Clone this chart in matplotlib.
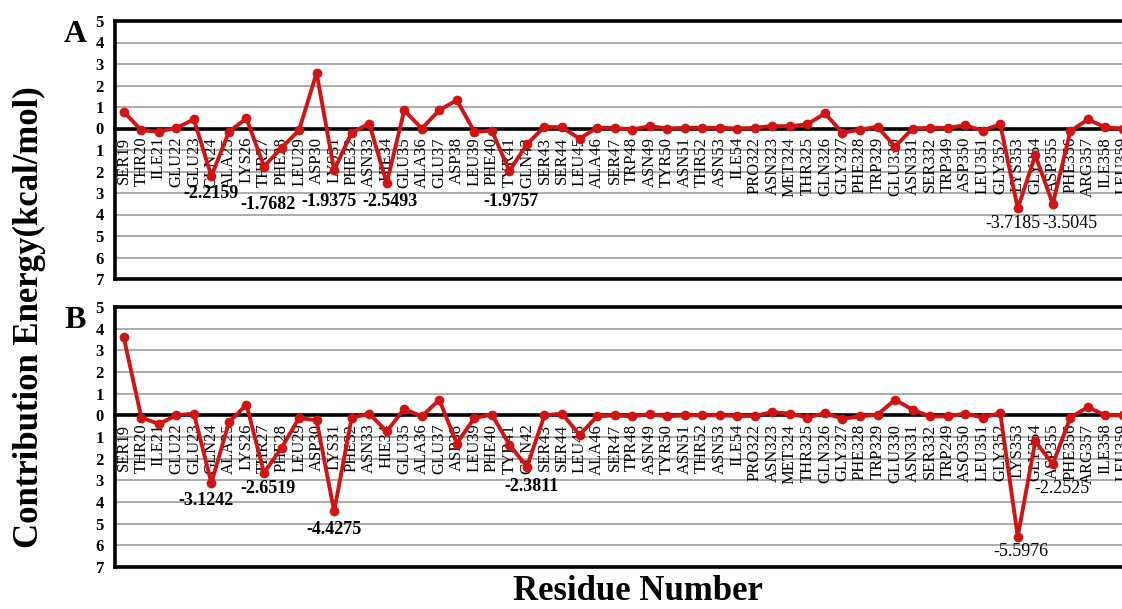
import matplotlib.pyplot as plt
import numpy as np

# Residue labels (panel A) and panel B (as printed, incl. typos)
labels_a = ['SER19', 'THR20', 'ILE21', 'GLU22', 'GLU23', 'GLN24', 'ALA25',
            'LYS26', 'THR27', 'PHE28', 'LEU29', 'ASP30', 'LYS31', 'PHE32',
            'ASN33', 'HIE34', 'GLU35', 'ALA36', 'GLU37', 'ASP38', 'LEU39',
            'PHE40', 'TYR41', 'GLN42', 'SER43', 'SER44', 'LEU45', 'ALA46',
            'SER47', 'TRP48', 'ASN49', 'TYR50', 'ASN51', 'THR52', 'ASN53',
            'ILE54', 'PRO322', 'ASN323', 'MET324', 'THR325', 'GLN326',
            'GLY327', 'PHE328', 'TRP329', 'GLU330', 'ASN331', 'SER332',
            'TRP349', 'ASP350', 'LEU351', 'GLY352', 'LYS353', 'GLY354',
            'ASP355', 'PHE356', 'ARG357', 'ILE358', 'LEU359']
labels_b = ['SER19', 'THR20', 'ILE21', 'GLU22', 'GLU23', 'GLN24', 'ALA25',
            'LYS26', 'THR27', 'PHE28', 'LEU29', 'ASP30', 'LYS31', 'PHE32',
            'ASN33', 'HIE34', 'GLU35', 'ALA36', 'GLU37', 'ASP38', 'LEU39',
            'PHE40', 'TYR41', 'GLN42', 'SER43', 'SER44', 'LEU45', 'ALA46',
            'SER47', 'TPR48', 'ASN49', 'TYR50', 'ASN51', 'THR52', 'ASN53',
            'ILE54', 'PRO322', 'ASN323', 'MET324', 'THR325', 'GLN326',
            'GLY327', 'PHE328', 'TRP329', 'GLU330', 'ASN331', 'SER332',
            'TRP249', 'ASO350', 'LEU351', 'GLY352', 'LYS353', 'GLY354',
            'ASP355', 'PHE356', 'ARG357', 'ILE358', 'LEU359']

energy_a = [0.78, -0.08, -0.15, 0.03, 0.42, -2.2159, -0.15, 0.47, -1.7682,
            -0.9, -0.08, 2.59, -1.9375, -0.2, 0.23, -2.5493, 0.85, 0.0,
            0.85, 1.32, -0.15, -0.1, -1.9757, -0.73, 0.08, 0.05, -0.47,
            0.03, 0.03, -0.05, 0.11, 0.0, 0.03, 0.03, 0.03, 0.0, 0.03, 0.12,
            0.1, 0.2, 0.7, -0.2, -0.05, 0.08, -0.85, 0.0, 0.03, 0.03, 0.15,
            -0.1, 0.2, -3.7185, -1.24, -3.5045, -0.12, 0.42, 0.05, 0.0]
energy_b = [3.6, -0.1, -0.4, 0.0, 0.08, -3.1242, -0.32, 0.49, -2.6519,
            -1.5, -0.12, -0.23, -4.4275, -0.12, 0.08, -0.74, 0.3, -0.05,
            0.72, -1.3, -0.12, 0.03, -1.35, -2.3811, 0.0, 0.08, -0.9, -0.05,
            0.0, -0.05, 0.06, -0.05, 0.0, 0.0, 0.0, -0.03, -0.03, 0.15, 0.08,
            -0.1, 0.1, -0.15, -0.05, 0.03, 0.72, 0.26, -0.05, -0.05, 0.08,
            -0.1, 0.1, -5.5976, -1.2, -2.2525, -0.1, 0.38, 0.0, 0.0]

# annotated minima: (index, text x, text y, bold)
notes_a = [(5, 5.0, -3.0, True), (8, 8.2, -3.55, True), (12, 11.7, -3.4, True),
           (15, 15.2, -3.4, True), (22, 22.1, -3.4, True),
           (51, 50.7, -4.4, False), (53, 54.0, -4.4, False)]
notes_b = [(5, 4.7, -3.95, True), (8, 8.2, -3.37, True), (12, 12.0, -5.25, True),
           (23, 23.25, -3.28, True), (51, 51.2, -6.3, False),
           (53, 53.5, -3.37, False)]

serif = ['Liberation Serif', 'DejaVu Serif']
red = '#d01414'

fig = plt.figure(figsize=(11.22, 6.09), dpi=100)
W, H = 1122, 609


def panel(rect_px, labels, values, notes, letter):
    left, top, bottom, right = rect_px
    ax = fig.add_axes([left / W, 1 - bottom / H, (right - left) / W,
                       (bottom - top) / H])
    x = np.arange(len(labels))
    ax.set_xlim(-0.5, len(labels) - 0.5)
    ax.set_ylim(-7, 5)
    for y in range(-6, 5):
        ax.axhline(y, color='#a6a6a6', lw=1.3, zorder=0)
    ax.plot(x, values, color=red, lw=2.8, marker='o', ms=6, zorder=3)

    # category axis sits on the zero line, labels hang below it
    ax.spines['bottom'].set_position(('data', 0))
    ax.set_xticks(x)
    ax.set_xticklabels(labels, rotation=90, family=serif, fontsize=12)
    ax.tick_params(axis='x', length=0, pad=6)
    ax.axhline(-7, color='black', lw=2.6, clip_on=False, zorder=4)

    ax.set_yticks(range(-7, 6))
    ax.set_yticklabels([str(abs(v)) for v in range(-7, 6)],
                       family=serif, fontweight='bold', fontsize=12)
    ax.tick_params(axis='y', length=0, pad=8)
    for s in ax.spines.values():
        s.set_linewidth(2.6)

    for i, tx, ty, bold in notes:
        ax.text(tx, ty, f'{values[i]:.4f}', ha='center', va='center',
                family=serif, fontsize=13,
                fontweight='bold' if bold else 'normal', zorder=4)

    fig.text(75 / W, 1 - (top + 13) / H, letter, ha='center', va='center',
             family=serif, fontweight='bold', fontsize=23)
    return ax


panel((115, 21, 279, 1131.7), labels_a, energy_a, notes_a, 'A')
panel((115, 307, 567, 1131.7), labels_b, energy_b, notes_b, 'B')

fig.text(29 / W, 1 - 317 / H, 'Contribution Energy(kcal/mol)', rotation=90,
         ha='center', va='center', family=serif, fontweight='bold', fontsize=25)
fig.text(638 / W, 1 - 592 / H, 'Residue Number', ha='center', va='center',
         family=serif, fontweight='bold', fontsize=25)

fig.savefig('out.png', dpi=100)
